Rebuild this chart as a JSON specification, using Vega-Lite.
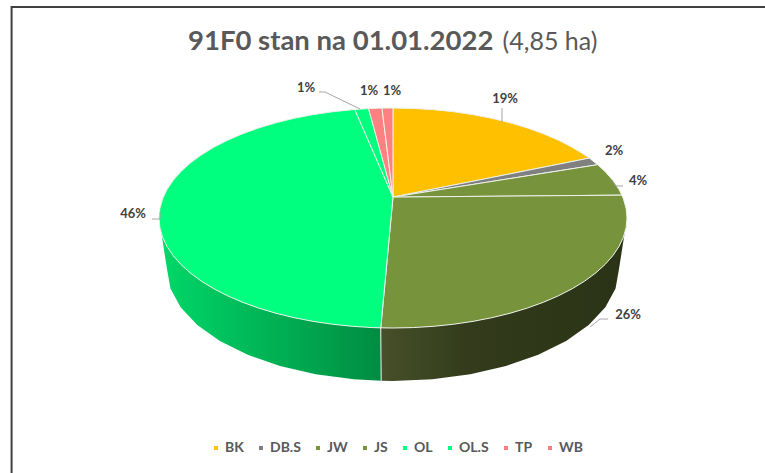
{"$schema":"https://vega.github.io/schema/vega-lite/v6.json","width":765,"height":473,"padding":0,"autosize":"none","background":"white",
"title":{"text":"91F0 stan na 01.01.2022","anchor":"start","frame":"group","dx":188,"dy":77,"offset":0,"baseline":"alphabetic","font":"Lato","fontSize":27.5,"fontWeight":"bold","color":"#595959"},
"config":{"view":{"stroke":null}},
"datasets":{
"face":[
{"slice":"BK","i":0,"u":0,"v":0.19},{"slice":"BK","i":1,"u":0,"v":1},{"slice":"BK","i":2,"u":0.0872,"v":0.9962},{"slice":"BK","i":3,"u":0.1736,"v":0.9848},{"slice":"BK","i":4,"u":0.2588,"v":0.9659},{"slice":"BK","i":5,"u":0.342,"v":0.9397},{"slice":"BK","i":6,"u":0.4226,"v":0.9063},{"slice":"BK","i":7,"u":0.5,"v":0.866},{"slice":"BK","i":8,"u":0.5736,"v":0.8192},{"slice":"BK","i":9,"u":0.6428,"v":0.766},{"slice":"BK","i":10,"u":0.7071,"v":0.7071},{"slice":"BK","i":11,"u":0.766,"v":0.6428},{"slice":"BK","i":12,"u":0.8192,"v":0.5736},{"slice":"BK","i":13,"u":0.8387,"v":0.5446},{"slice":"BK","i":14,"u":0,"v":0.19},
{"slice":"DB.S","i":0,"u":0,"v":0.19},{"slice":"DB.S","i":1,"u":0.8387,"v":0.5446},{"slice":"DB.S","i":2,"u":0.8746,"v":0.4848},{"slice":"DB.S","i":3,"u":0,"v":0.19},
{"slice":"JW","i":0,"u":0,"v":0.19},{"slice":"JW","i":1,"u":0.8746,"v":0.4848},{"slice":"JW","i":2,"u":0.9063,"v":0.4226},{"slice":"JW","i":3,"u":0.9397,"v":0.342},{"slice":"JW","i":4,"u":0.9659,"v":0.2588},{"slice":"JW","i":5,"u":0.9781,"v":0.2079},{"slice":"JW","i":6,"u":0,"v":0.19},
{"slice":"JS","i":0,"u":0,"v":0.19},{"slice":"JS","i":1,"u":0.9781,"v":0.2079},{"slice":"JS","i":2,"u":0.9848,"v":0.1736},{"slice":"JS","i":3,"u":0.9962,"v":0.0872},{"slice":"JS","i":4,"u":1,"v":0},{"slice":"JS","i":5,"u":0.9962,"v":-0.0872},{"slice":"JS","i":6,"u":0.9848,"v":-0.1736},{"slice":"JS","i":7,"u":0.9659,"v":-0.2588},{"slice":"JS","i":8,"u":0.9397,"v":-0.342},{"slice":"JS","i":9,"u":0.9063,"v":-0.4226},{"slice":"JS","i":10,"u":0.866,"v":-0.5},{"slice":"JS","i":11,"u":0.8192,"v":-0.5736},{"slice":"JS","i":12,"u":0.766,"v":-0.6428},{"slice":"JS","i":13,"u":0.7071,"v":-0.7071},{"slice":"JS","i":14,"u":0.6428,"v":-0.766},{"slice":"JS","i":15,"u":0.5736,"v":-0.8192},{"slice":"JS","i":16,"u":0.5,"v":-0.866},{"slice":"JS","i":17,"u":0.4226,"v":-0.9063},{"slice":"JS","i":18,"u":0.342,"v":-0.9397},{"slice":"JS","i":19,"u":0.2588,"v":-0.9659},{"slice":"JS","i":20,"u":0.1736,"v":-0.9848},{"slice":"JS","i":21,"u":0.0872,"v":-0.9962},{"slice":"JS","i":22,"u":0,"v":-1},{"slice":"JS","i":23,"u":-0.0523,"v":-0.9986},{"slice":"JS","i":24,"u":0,"v":0.19},
{"slice":"OL","i":0,"u":0,"v":0.19},{"slice":"OL","i":1,"u":-0.0523,"v":-0.9986},{"slice":"OL","i":2,"u":-0.0872,"v":-0.9962},{"slice":"OL","i":3,"u":-0.1736,"v":-0.9848},{"slice":"OL","i":4,"u":-0.2588,"v":-0.9659},{"slice":"OL","i":5,"u":-0.342,"v":-0.9397},{"slice":"OL","i":6,"u":-0.4226,"v":-0.9063},{"slice":"OL","i":7,"u":-0.5,"v":-0.866},{"slice":"OL","i":8,"u":-0.5736,"v":-0.8192},{"slice":"OL","i":9,"u":-0.6428,"v":-0.766},{"slice":"OL","i":10,"u":-0.7071,"v":-0.7071},{"slice":"OL","i":11,"u":-0.766,"v":-0.6428},{"slice":"OL","i":12,"u":-0.8192,"v":-0.5736},{"slice":"OL","i":13,"u":-0.866,"v":-0.5},{"slice":"OL","i":14,"u":-0.9063,"v":-0.4226},{"slice":"OL","i":15,"u":-0.9397,"v":-0.342},{"slice":"OL","i":16,"u":-0.9659,"v":-0.2588},{"slice":"OL","i":17,"u":-0.9848,"v":-0.1736},{"slice":"OL","i":18,"u":-0.9962,"v":-0.0872},{"slice":"OL","i":19,"u":-1,"v":0},{"slice":"OL","i":20,"u":-0.9962,"v":0.0872},{"slice":"OL","i":21,"u":-0.9848,"v":0.1736},{"slice":"OL","i":22,"u":-0.9659,"v":0.2588},{"slice":"OL","i":23,"u":-0.9397,"v":0.342},{"slice":"OL","i":24,"u":-0.9063,"v":0.4226},{"slice":"OL","i":25,"u":-0.866,"v":0.5},{"slice":"OL","i":26,"u":-0.8192,"v":0.5736},{"slice":"OL","i":27,"u":-0.766,"v":0.6428},{"slice":"OL","i":28,"u":-0.7071,"v":0.7071},{"slice":"OL","i":29,"u":-0.6428,"v":0.766},{"slice":"OL","i":30,"u":-0.5736,"v":0.8192},{"slice":"OL","i":31,"u":-0.5,"v":0.866},{"slice":"OL","i":32,"u":-0.4226,"v":0.9063},{"slice":"OL","i":33,"u":-0.342,"v":0.9397},{"slice":"OL","i":34,"u":-0.2588,"v":0.9659},{"slice":"OL","i":35,"u":-0.1736,"v":0.9848},{"slice":"OL","i":36,"u":-0.1633,"v":0.9866},{"slice":"OL","i":37,"u":0,"v":0.19},
{"slice":"OL.S","i":0,"u":0,"v":0.19},{"slice":"OL.S","i":1,"u":-0.1633,"v":0.9866},{"slice":"OL.S","i":2,"u":-0.1045,"v":0.9945},{"slice":"OL.S","i":3,"u":0,"v":0.19},
{"slice":"TP","i":0,"u":0,"v":0.19},{"slice":"TP","i":1,"u":-0.1045,"v":0.9945},{"slice":"TP","i":2,"u":-0.0471,"v":0.9989},{"slice":"TP","i":3,"u":0,"v":0.19},
{"slice":"WB","i":0,"u":0,"v":0.19},{"slice":"WB","i":1,"u":-0.0471,"v":0.9989},{"slice":"WB","i":2,"u":0,"v":1},{"slice":"WB","i":3,"u":0,"v":0.19}
],
"sideJS":[
{"i":0,"u":1,"v":0},{"i":1,"u":0.9848,"v":-0.1736},{"i":2,"u":0.9397,"v":-0.342},{"i":3,"u":0.866,"v":-0.5},{"i":4,"u":0.766,"v":-0.6428},{"i":5,"u":0.6428,"v":-0.766},{"i":6,"u":0.5,"v":-0.866},{"i":7,"u":0.342,"v":-0.9397},{"i":8,"u":0.1736,"v":-0.9848},{"i":9,"u":0,"v":-1},{"i":10,"u":-0.0523,"v":-0.9986},{"i":11,"u":-0.0505,"v":-1.4804},{"i":12,"u":0,"v":-1.4818},{"i":13,"u":0.1677,"v":-1.4663},{"i":14,"u":0.3303,"v":-1.4204},{"i":15,"u":0.4829,"v":-1.3454},{"i":16,"u":0.6208,"v":-1.2436},{"i":17,"u":0.7398,"v":-1.1181},{"i":18,"u":0.8364,"v":-0.9727},{"i":19,"u":0.9076,"v":-0.8118},{"i":20,"u":0.9511,"v":-0.6404},{"i":21,"u":0.9658,"v":-0.4636}
],
"sideOL":[
{"i":0,"u":-0.0523,"v":-0.9986},{"i":1,"u":-0.1736,"v":-0.9848},{"i":2,"u":-0.342,"v":-0.9397},{"i":3,"u":-0.5,"v":-0.866},{"i":4,"u":-0.6428,"v":-0.766},{"i":5,"u":-0.766,"v":-0.6428},{"i":6,"u":-0.866,"v":-0.5},{"i":7,"u":-0.9397,"v":-0.342},{"i":8,"u":-0.9848,"v":-0.1736},{"i":9,"u":-1,"v":0},{"i":10,"u":-0.9658,"v":-0.4636},{"i":11,"u":-0.9511,"v":-0.6404},{"i":12,"u":-0.9076,"v":-0.8118},{"i":13,"u":-0.8364,"v":-0.9727},{"i":14,"u":-0.7398,"v":-1.1181},{"i":15,"u":-0.6208,"v":-1.2436},{"i":16,"u":-0.4829,"v":-1.3454},{"i":17,"u":-0.3303,"v":-1.4204},{"i":18,"u":-0.1677,"v":-1.4663},{"i":19,"u":-0.0505,"v":-1.4804}
],
"divider":[{"i":0,"u":-0.0523,"v":-0.9986},{"i":1,"u":-0.0505,"v":-1.4804}],
"frame":[{"i":0,"u":1.5897,"v":1.918},{"i":1,"u":-1.63,"v":1.918},{"i":2,"u":-1.63,"v":-2.318}],
"leaders":[
{"slice":"BK","i":0,"u":0.4658,"v":1},{"slice":"BK","i":1,"u":0.4658,"v":0.8727},
{"slice":"JW","i":0,"u":0.9359,"v":0.3455},{"slice":"JW","i":1,"u":0.953,"v":0.2909},{"slice":"JW","i":2,"u":0.9829,"v":0.2909},
{"slice":"JS","i":0,"u":0.8419,"v":-0.9909},{"slice":"JS","i":1,"u":0.8846,"v":-0.9182},{"slice":"JS","i":2,"u":0.9188,"v":-0.9182},
{"slice":"OL","i":0,"u":-1.0299,"v":-0.0091},{"slice":"OL","i":1,"u":-0.9957,"v":-0.0091},{"slice":"OL","i":2,"u":-0.9957,"v":0.0545},
{"slice":"OL.S","i":0,"u":-0.3162,"v":1.1455},{"slice":"OL.S","i":1,"u":-0.2906,"v":1.1455},{"slice":"OL.S","i":2,"u":-0.141,"v":0.9909}
],
"labels":[
{"slice":"BK","share":0.19,"u":0.4786,"v":1.0818},
{"slice":"DB.S","share":0.02,"u":0.9444,"v":0.6091},
{"slice":"JW","share":0.04,"u":1.047,"v":0.3364},
{"slice":"JS","share":0.26,"u":1.0043,"v":-0.8818},
{"slice":"OL","share":0.46,"u":-1.1111,"v":0.0364},
{"slice":"OL.S","share":0.01,"u":-0.3718,"v":1.1818},
{"slice":"TP","share":0.01,"u":-0.1026,"v":1.1545},
{"slice":"WB","share":0.01,"u":-0.0043,"v":1.1545}
],
"area":[{"text":"(4,85 ha)","u":0.671,"v":1.527}]
},
"encoding":{
"x":{"field":"u","type":"quantitative","axis":null,"scale":{"domain":[-1.67949,1.58974],"nice":false,"zero":false}},
"y":{"field":"v","type":"quantitative","axis":null,"scale":{"domain":[-2.31818,1.98182],"nice":false,"zero":false}}
},
"layer":[
{"data":{"name":"frame"},"mark":{"type":"line","stroke":"#404040","strokeWidth":2},"encoding":{"order":{"field":"i"}}},
{"data":{"name":"sideJS"},"mark":{"type":"line","strokeWidth":0,"fill":{"gradient":"linear","x1":0,"y1":0,"x2":1,"y2":0,"stops":[{"offset":0,"color":"#475029"},{"offset":0.35,"color":"#333b1c"},{"offset":1,"color":"#2b3316"}]}},"encoding":{"order":{"field":"i"}}},
{"data":{"name":"sideOL"},"mark":{"type":"line","strokeWidth":0,"fill":{"gradient":"linear","x1":0,"y1":0,"x2":1,"y2":0,"stops":[{"offset":0,"color":"#00d868"},{"offset":1,"color":"#008c42"}]}},"encoding":{"order":{"field":"i"}}},
{"data":{"name":"divider"},"mark":{"type":"line","stroke":"#e8f0e8","strokeWidth":1},"encoding":{"order":{"field":"i"}}},
{"data":{"name":"face"},"mark":{"type":"line","stroke":"#eef2ea","strokeWidth":1},"encoding":{"order":{"field":"i"},
"fill":{"field":"slice","type":"nominal","scale":{"domain":["BK","DB.S","JW","JS","OL","OL.S","TP","WB"],"range":["#FFC000","#808080","#77933C","#77933C","#00FF7F","#00FF7F","#FF8080","#FF8080"]},
"legend":{"title":null,"orient":"none","legendX":209,"legendY":441,"direction":"horizontal","columns":8,"gridAlign":"none","columnPadding":10,"symbolType":"square","symbolSize":16,"symbolStrokeWidth":0,"symbolOpacity":1,"labelOffset":2,"labelFont":"Lato","labelFontSize":14,"labelFontWeight":"bold","labelColor":"#595959"}}}},
{"data":{"name":"leaders"},"mark":{"type":"line","stroke":"#a6a6a6","strokeWidth":1},"encoding":{"detail":{"field":"slice"},"order":{"field":"i"}}},
{"data":{"name":"labels"},"mark":{"type":"text","font":"Lato","fontSize":13,"fontWeight":"bold","color":"#404040"},"encoding":{"text":{"field":"share","type":"quantitative","format":".0%"}}},
{"data":{"name":"area"},"mark":{"type":"text","font":"Lato","fontSize":25,"color":"#595959","align":"center","baseline":"alphabetic"},"encoding":{"text":{"field":"text"}}}
]}
